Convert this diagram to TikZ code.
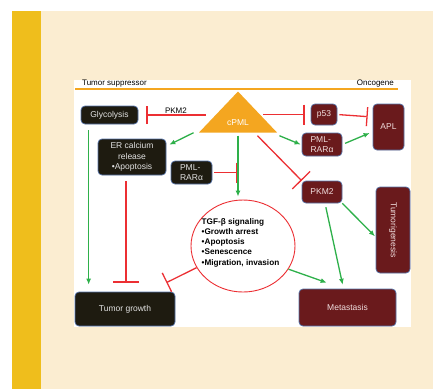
\documentclass[tikz,border=0pt]{standalone}
\usepackage{xcolor}
\usepackage{fontspec}
\setmainfont{Liberation Sans}
\usepackage{tikz}
\usetikzlibrary{calc}
\usetikzlibrary{arrows.meta}
\usetikzlibrary{shapes}
\usetikzlibrary{shapes.geometric}
\definecolor{cream}{HTML}{FBEDD1}
\definecolor{sidebar}{HTML}{EFBE1C}
\definecolor{beam}{HTML}{F4A620}
\definecolor{actgreen}{HTML}{2EB04A}
\definecolor{inhred}{HTML}{EC2F33}
\definecolor{boxblack}{HTML}{1E1B10}
\definecolor{boxred}{HTML}{6A1A1C}
\definecolor{edgeblue}{HTML}{5472A8}
\definecolor{darktext}{HTML}{E2E2E2}
\definecolor{redtext}{HTML}{F0DEDE}
\tikzset{>=latex}
\tikzstyle{darkbox} = [rectangle, rounded corners=4pt, draw=edgeblue, line width=0.7pt, fill=boxblack, text=darktext, inner sep=1pt, font=\fontsize{8.5}{10.3}\selectfont]
\tikzstyle{redbox} = [darkbox, fill=boxred, text=redtext]
\tikzstyle{act} = [-{Latex[length=6pt,width=5pt]}, draw=actgreen, line width=1.3pt]
\tikzstyle{inh} = [draw=inhred, line width=1.3pt]
\tikzstyle{lbl} = [font=\fontsize{8}{9.6}\selectfont, text=black, inner sep=1pt]

\begin{document}
\begin{tikzpicture}[x=1pt, y=-1pt]
\useasboundingbox (0,0) rectangle (433,389);
\fill [white] (0,0) rectangle (433,389);
\fill [cream] (12,11) rectangle (433,389);
\fill [sidebar] (12,11) rectangle (41,389);
\fill [white] (74,80) rectangle (411,327);
\draw [beam, line width=2pt] (75,89) -- (398,89);
\node [lbl, anchor=west] (supp) at (81,84) {Tumor suppressor};
\node [lbl, anchor=east] (onco) at (395,84) {Oncogene};

\node [isosceles triangle, shape border rotate=90, isosceles triangle stretches, minimum width=78pt, minimum height=41pt, inner sep=0pt, fill=beam, anchor=apex] (cpml) at (238,91) {};
\node [text=white, font=\fontsize{8.5}{10}\selectfont] (cpmltxt) at (238,123) {cPML};

\node [darkbox, minimum width=57pt, minimum height=18pt] (glyco) at (109.5,115) {Glycolysis};
\node [darkbox, minimum width=68pt, minimum height=36pt, align=center] (er) at (132,157) {ER calcium\\release\\•Apoptosis};
\node [darkbox, minimum width=41pt, minimum height=23pt, align=left] (pmlL) at (191.5,172.5) {PML-\\RARα};
\node [darkbox, minimum width=100pt, minimum height=34pt] (tgrowth) at (125,309) {Tumor growth};

\node [redbox, minimum width=26pt, minimum height=21pt] (p53) at (324,114.5) {p53};
\node [redbox, minimum width=31pt, minimum height=46pt] (apl) at (388.5,127) {APL};
\node [redbox, minimum width=40pt, minimum height=23pt, align=left] (pmlR) at (322,144.5) {PML-\\RARα};
\node [redbox, minimum width=40pt, minimum height=22pt] (pkm) at (322,192) {PKM2};
\node [redbox, minimum width=34pt, minimum height=86pt] (tumgen) at (393,230) {\rotatebox{-90}{Tumorigenesis}};
\node [redbox, minimum width=97pt, minimum height=37pt] (meta) at (347.5,307.5) {Metastasis};

\node [ellipse, draw=inhred, line width=0.9pt, fill=white, minimum width=104pt, minimum height=92pt, inner sep=0pt] (tgf) at (243,246) {};
\node [font=\bfseries\fontsize{8.2}{10.2}\selectfont, align=left, inner sep=0pt] (tgftxt) at (240.5,242.5) {TGF-β signaling\\•Growth arrest\\•Apoptosis\\•Senescence\\•Migration, invasion};

\draw [inh, -{Bar[width=18pt]}] ([xshift=7pt]cpml.left corner |- glyco) -- ([xshift=8pt]glyco.east) node [lbl, midway, above] {PKM2};
\draw [inh, -{Bar[width=20pt]}] ([xshift=-14pt]cpml.right corner |- p53) -- ([xshift=-6pt]p53.west);
\draw [inh, -{Bar[width=19pt]}, shorten <=2pt, shorten >=5pt] (p53.east) -- ([yshift=10pt]apl.west);
\draw [act] ([xshift=2pt,yshift=-3pt]cpml.right corner) -- ([xshift=-1pt]pmlR.west);
\draw [act, shorten <=3pt] (pmlR.east) -- ([xshift=-3pt,yshift=-6pt]apl.west);
\draw [act] ([xshift=-5pt]cpml.left corner) -- ([xshift=3pt,yshift=-6pt]er.north east);
\draw [inh, -{Bar[width=20pt]}, shorten <=2pt, shorten >=1pt] (pmlL.east) -- (pmlL.east -| cpml.apex);
\draw [act, shorten >=3pt] ([yshift=-3pt]cpml.apex |- cpml.left corner) -- (cpml.apex |- tgf.north);
\draw [inh, -{Bar[width=25pt]}] ([xshift=-20pt,yshift=-3pt]cpml.right corner) -- (pkm.north west);
\draw [act, shorten >=1pt] (pkm.south east) -- ([yshift=-7pt]tumgen.west);
\draw [act, shorten <=4pt, shorten >=4pt] ([xshift=3pt]pkm.south) -- ([xshift=-4pt]meta.north);
\draw [act] (tgf.-27) -- ([xshift=28pt,yshift=6pt]meta.north west);
\draw [inh, -{Bar[width=21pt]}] (tgf.205) -- ([xshift=-9pt,yshift=9pt]tgrowth.north east);
\draw [act, shorten <=6pt, shorten >=7pt] ([xshift=8pt]glyco.south west) -- ([xshift=8pt]glyco.south west |- tgrowth.north);
\draw [inh, -{Bar[width=26pt]}, shorten <=6pt, shorten >=9pt] ([xshift=-6pt]er.south) -- ([xshift=-6pt]er.south |- tgrowth.north);
\end{tikzpicture}
\end{document}
